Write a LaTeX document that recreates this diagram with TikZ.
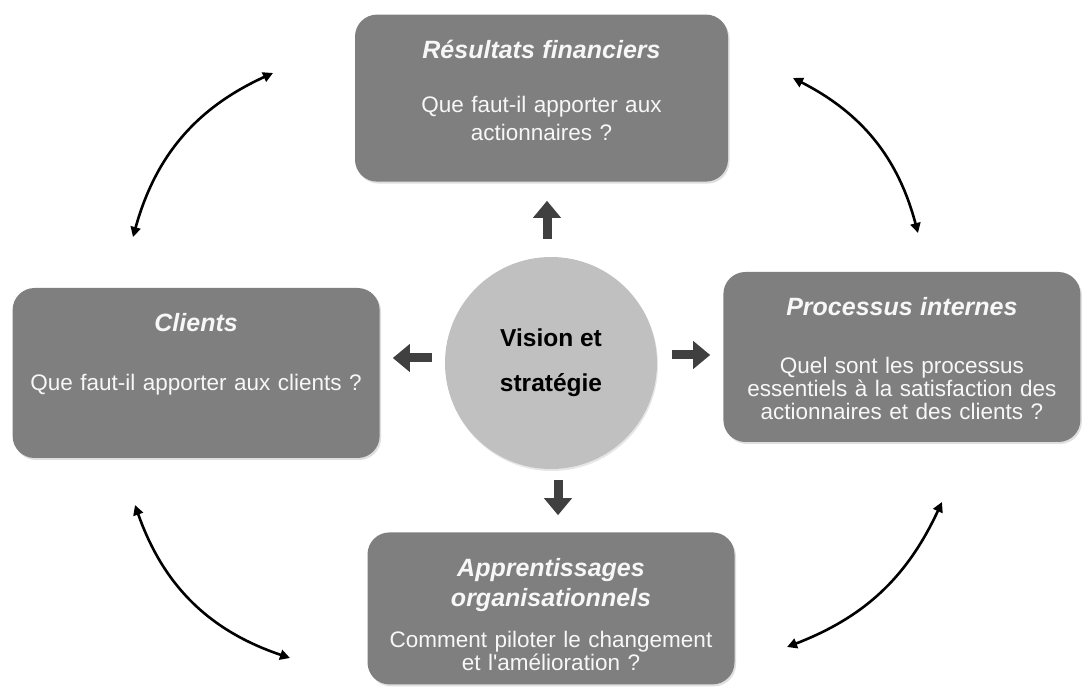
\documentclass[tikz,border=0pt]{standalone}
\usepackage{fontspec}
\setmainfont{Liberation Sans}
\usetikzlibrary{positioning, arrows.meta, shadows}

\definecolor{cardgray}{HTML}{7F7F7F}
\definecolor{cardtext}{HTML}{F7F7F7}
\definecolor{hubgray}{HTML}{C0C0C0}
\definecolor{arrowgray}{HTML}{404040}

\newcommand{\cardtitle}[1]{{\fontsize{25}{23}\selectfont\bfseries\itshape #1}}

\begin{document}
\begin{tikzpicture}[
    card/.style={rectangle, rounded corners=22pt, fill=cardgray, text=cardtext, inner sep=0pt, align=center, text height=44pt, font={\fontsize{22.5}{23}\selectfont\lineskiplimit=-30pt}, drop shadow={opacity=0.25, shadow xshift=1.5pt, shadow yshift=-2pt}},
    hub/.style={circle, fill=hubgray, minimum size=212pt, inner sep=0pt, align=center, font={\fontsize{24.5}{24}\selectfont\bfseries}, drop shadow={opacity=0.2, shadow xshift=1pt, shadow yshift=-2pt}},
    big-arr/.style={draw=arrowgray, line width=9pt, -{Triangle[length=17pt, width=27pt]}},
    loop-arr/.style={draw=black, line width=2.6pt, {Triangle[length=10pt, width=10pt]}-{Triangle[length=10pt, width=10pt]}}
  ]
  \useasboundingbox (0,0) rectangle (1082pt,686pt);

    \node[hub] (vision) at (551pt,323pt) {Vision et\\[21pt]stratégie};

    % the four perspectives
    \node[card, above=75pt of vision, xshift=-9.5pt, text width=373pt, text depth=123pt] (fin)
      {\cardtitle{Résultats financiers}\\[31pt]Que faut-il apporter aux\\[5pt]actionnaires ?};
    \node[card, left=65pt of vision, yshift=-10pt, text width=367pt, text depth=126pt] (cli)
      {\cardtitle{Clients}\\[36pt]Que faut-il apporter aux clients ?};
    \node[card, right=66pt of vision, yshift=6pt, text width=357pt, text depth=126pt] (proc)
      {\cardtitle{Processus internes}\\[35pt]Quel sont les processus\\essentiels à la satisfaction des\\actionnaires et des clients ?};
    \node[card, below=63pt of vision, text width=367pt, text depth=108pt] (app)
      {\cardtitle{Apprentissages}\\[7pt]\cardtitle{organisationnels}\\[18pt]Comment piloter le changement\\et l\textquotesingle amélioration ?};

    % block arrows out of the circle
    \coordinate[above=18pt of vision, xshift=-4pt] (up-a);
    \coordinate[above=38pt of up-a] (up-b);
    \coordinate[below=11pt of vision, xshift=7pt] (dn-a);
    \coordinate[below=35pt of dn-a] (dn-b);
    \coordinate[left=13pt of vision, yshift=5pt] (lt-a);
    \coordinate[left=39pt of lt-a] (lt-b);
    \coordinate[right=15pt of vision, yshift=8pt] (rt-a);
    \coordinate[right=38pt of rt-a] (rt-b);
    \draw[big-arr] (up-a) -- (up-b);
    \draw[big-arr] (dn-a) -- (dn-b);
    \draw[big-arr] (lt-a) -- (lt-b);
    \draw[big-arr] (rt-a) -- (rt-b);

    % curved links between the perspectives
    \coordinate (tl-a) at (133pt,449pt);
    \coordinate (tl-b) at (273pt,613pt);
    \coordinate (tr-a) at (793pt,608pt);
    \coordinate (tr-b) at (918pt,453pt);
    \coordinate (br-a) at (942pt,184pt);
    \coordinate (br-b) at (787pt,39pt);
    \coordinate (bl-a) at (290pt,28pt);
    \coordinate (bl-b) at (135pt,181pt);
    \draw[loop-arr] (tl-a) to[bend left=25] (tl-b);
    \draw[loop-arr] (tr-a) to[bend left=24] (tr-b);
    \draw[loop-arr] (br-a) to[bend left=22] (br-b);
    \draw[loop-arr] (bl-a) to[bend left=26] (bl-b);

\end{tikzpicture}
\end{document}
